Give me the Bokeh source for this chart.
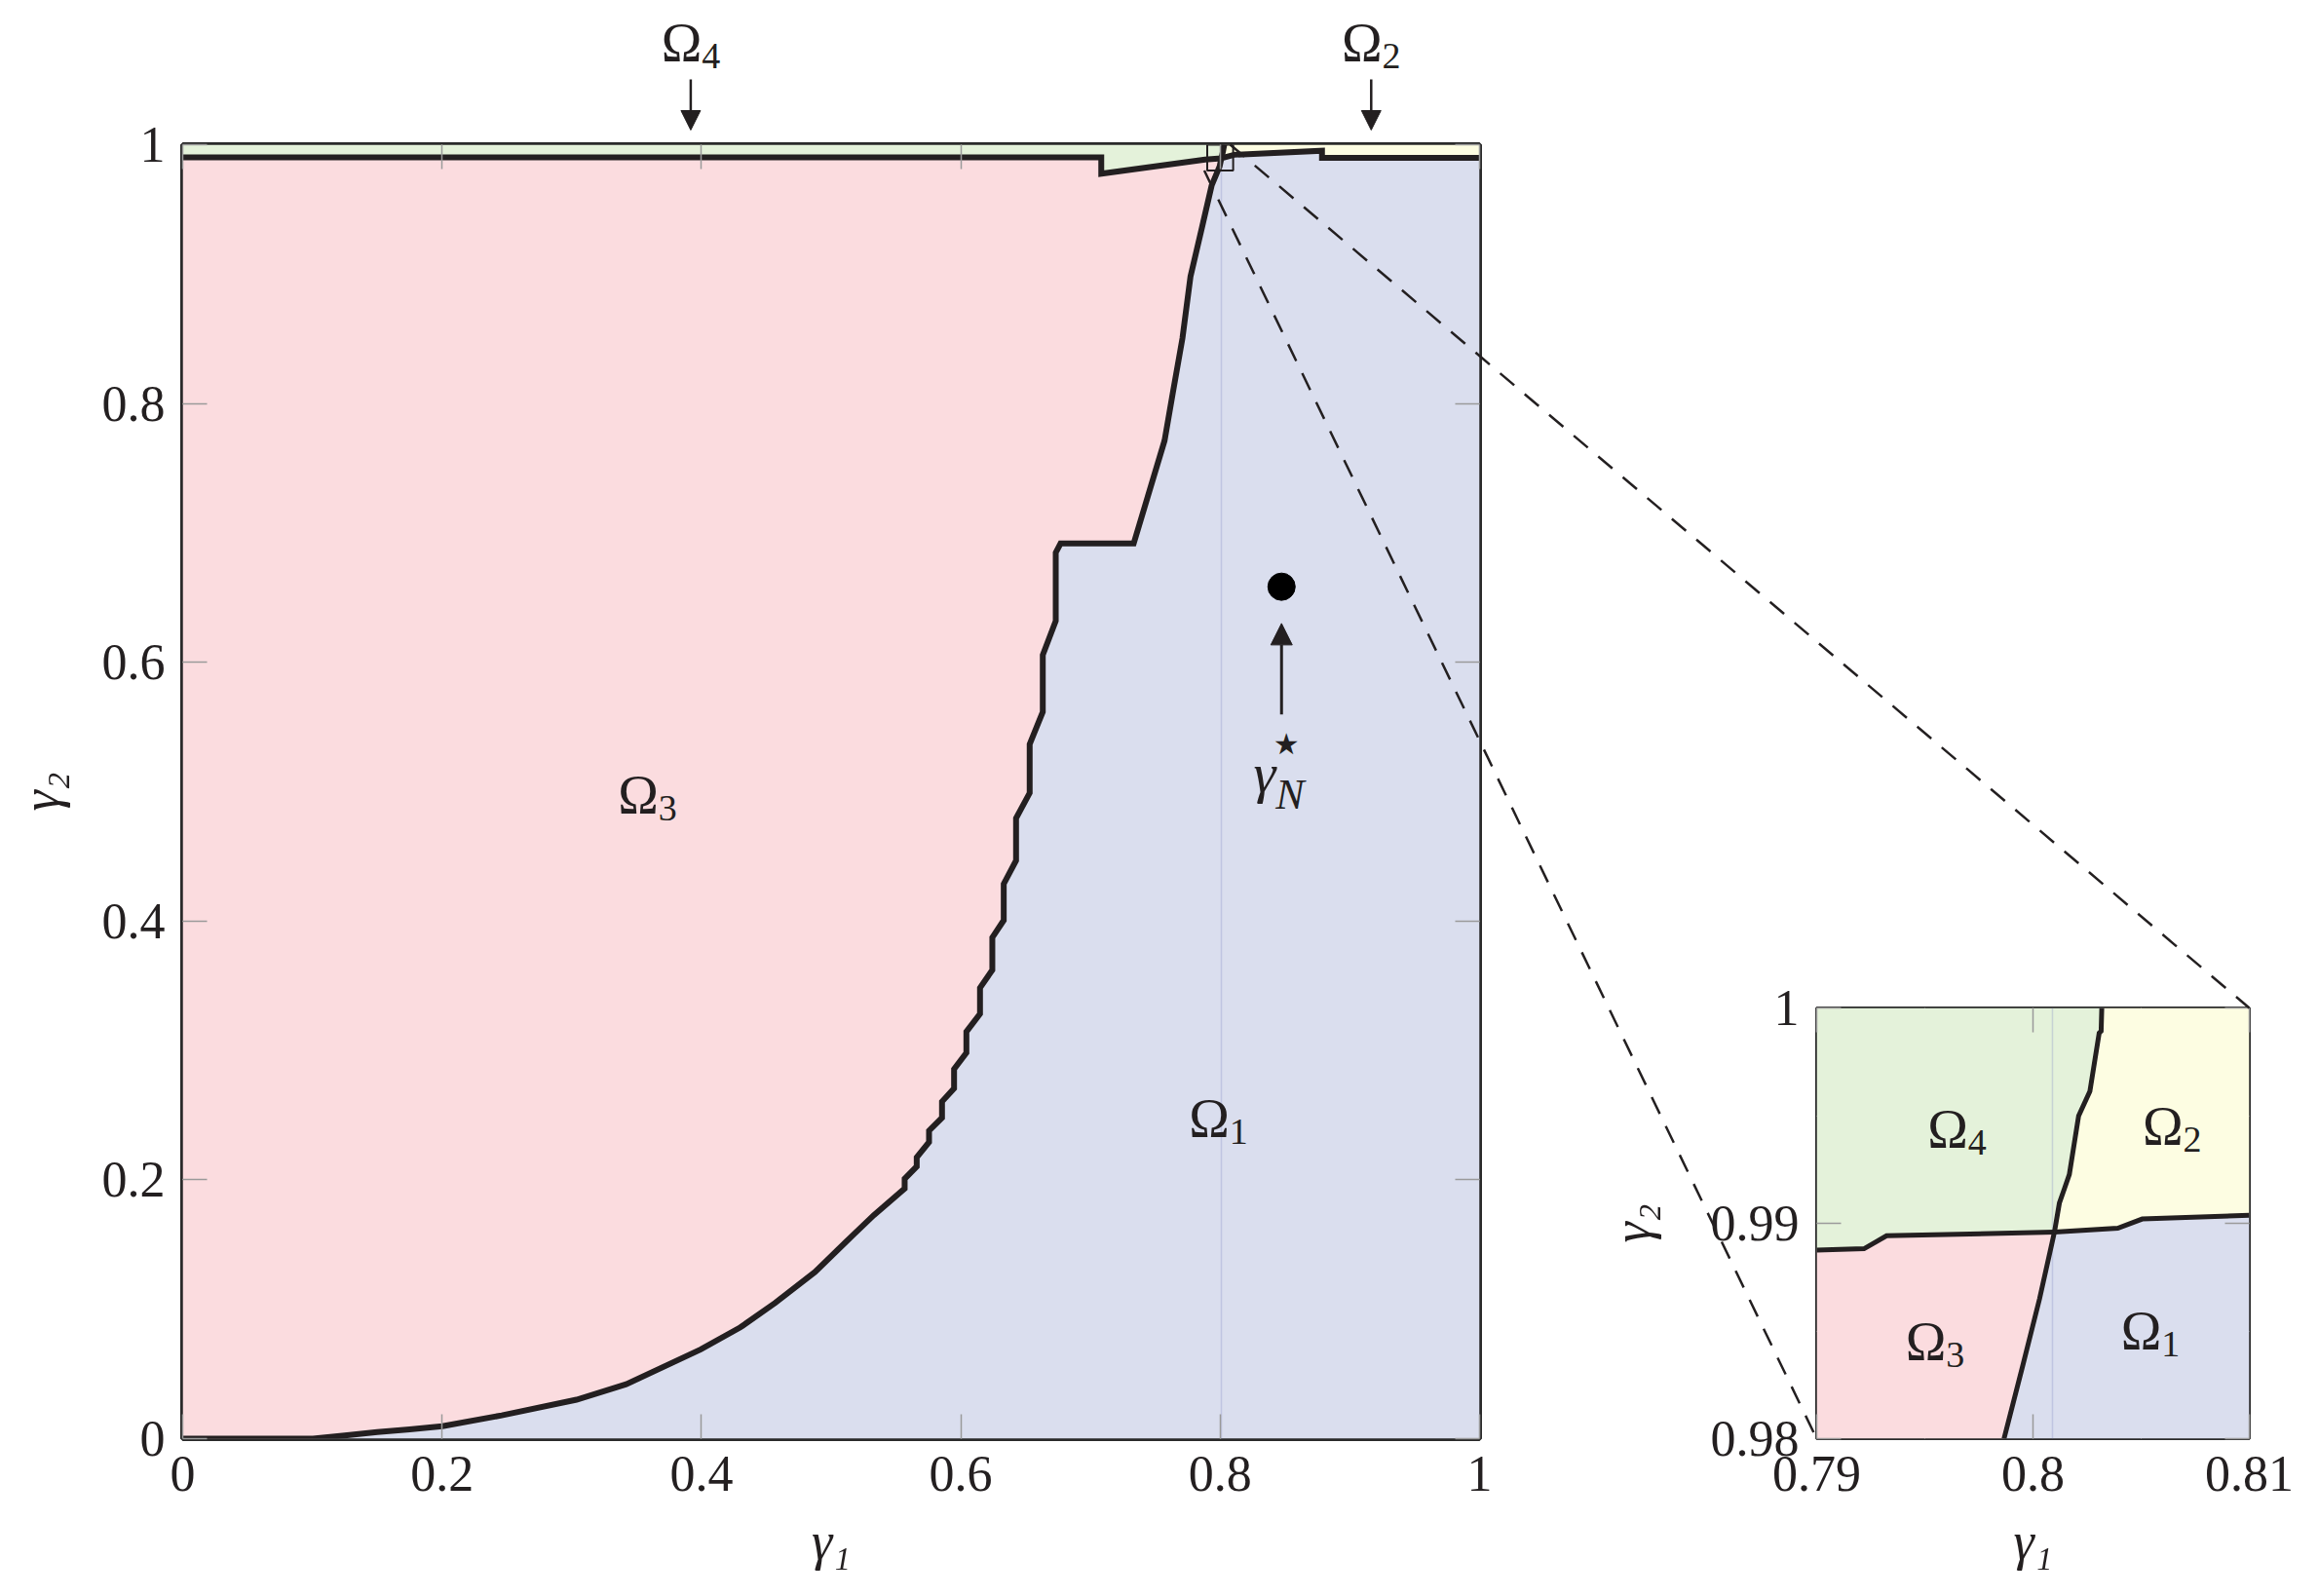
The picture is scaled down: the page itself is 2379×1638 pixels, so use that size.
from bokeh.plotting import figure
from bokeh.models import Range1d, LinearAxis, FixedTicker, Label, Arrow, NormalHead
from bokeh.embed import file_html
from bokeh.resources import INLINE

# ---------------- data ----------------
# main panel: region boundaries (gamma1, gamma2)
b13_x = [0.0, 0.1005, 0.125, 0.150, 0.175, 0.2002, 0.246, 0.3037, 0.342, 0.3995, 0.430, 0.4569, 0.4876,
         0.5145, 0.5329,
         0.5567, 0.5567, 0.5660, 0.5660, 0.5755, 0.5755, 0.5855, 0.5855, 0.5948, 0.5948, 0.6043, 0.6043,
         0.6148, 0.6148, 0.6243, 0.6243, 0.6331, 0.6331, 0.6426, 0.6426, 0.6531, 0.6531, 0.6632, 0.6632,
         0.6732, 0.6732, 0.6769, 0.7333, 0.7571, 0.7634, 0.7709, 0.7771, 0.7859, 0.7934, 0.7996, 0.8009]
b13_y = [0.0, 0.0, 0.0025, 0.005, 0.0072, 0.0096, 0.018, 0.0301, 0.042, 0.0690, 0.086, 0.1049, 0.1288,
         0.1551, 0.1727,
         0.1933, 0.2008, 0.2103, 0.2174, 0.2291, 0.2380, 0.2480, 0.2605, 0.2706, 0.2856, 0.2982, 0.3145,
         0.3283, 0.3484, 0.3622, 0.3873, 0.4006, 0.4287, 0.4468, 0.4794, 0.4990, 0.5367, 0.5617, 0.6056,
         0.6320, 0.6847, 0.6918, 0.6918, 0.7713, 0.8078, 0.8504, 0.8981, 0.9358, 0.9684, 0.9834, 0.9895]
b34_x = [0.0, 0.7083, 0.7083, 0.7884, 0.8009]
b34_y = [0.9902, 0.9902, 0.9776, 0.9885, 0.9895]
b12_x = [0.8009, 0.8107, 0.8785, 0.8785, 1.0]
b12_y = [0.9895, 0.9922, 0.9953, 0.9899, 0.9899]
b24_x = [0.8009, 0.8022, 0.8031]
b24_y = [0.9895, 0.9950, 1.0]

# inset panel boundaries
ib13_x = [0.79866, 0.79952, 0.80030, 0.80099]
ib13_y = [0.98, 0.98337, 0.98648, 0.98959]
ib34_x = [0.79, 0.79219, 0.79323, 0.80099]
ib34_y = [0.98876, 0.98882, 0.98942, 0.98959]
ib12_x = [0.80099, 0.80392, 0.80505, 0.81]
ib12_y = [0.98959, 0.98977, 0.9902, 0.99037]
ib24_x = [0.80099, 0.80122, 0.80146, 0.80168, 0.80211, 0.80263, 0.80306, 0.80315, 0.80318]
ib24_y = [0.98959, 0.99094, 0.99163, 0.99227, 0.99499, 0.99613, 0.99884, 0.99893, 1.0]

seam_x = 0.8009
gstar_x, gstar_y = 0.8473, 0.6584
gstar_arrow_y = [0.5597, 0.630]
gstar_label_y = 0.5143

main_xlim, main_ylim = (0.0, 1.0), (0.0, 1.0)
ins_xlim, ins_ylim = (0.79, 0.81), (0.98, 1.0)

main_x_ticks = [0, 0.2, 0.4, 0.6, 0.8, 1]
main_x_labels = ["0", "0.2", "0.4", "0.6", "0.8", "1"]
main_y_ticks = [0, 0.2, 0.4, 0.6, 0.8, 1]
main_y_labels = ["0", "0.2", "0.4", "0.6", "0.8", "1"]
ins_x_ticks = [0.79, 0.8, 0.81]
ins_x_labels = ["0.79", "0.8", "0.81"]
ins_y_ticks = [0.98, 0.99, 1.0]
ins_y_labels = ["0.98", "0.99", "1"]

# region labels: symbol, subscript, gamma1, gamma2 (centre)
main_region_labels = [("Ω", "3", 0.3584, 0.497), ("Ω", "1", 0.7986, 0.247)]
# top call-outs: symbol, subscript, gamma1, label gamma2, arrow start gamma2, arrow end gamma2
top_labels = [("Ω", "4", 0.3940, 1.0790, 1.0505, 1.0113), ("Ω", "2", 0.9187, 1.0790, 1.0505, 1.0113)]
ins_region_labels = [("Ω", "4", 0.79649, 0.99435), ("Ω", "2", 0.80643, 0.99448),
                     ("Ω", "3", 0.79547, 0.98449), ("Ω", "1", 0.80543, 0.98501)]

# ---------------- style / geometry ----------------
FONT = "Liberation Serif"
C_PINK, C_BLUE, C_GREEN, C_YELLOW = "#FBDCDF", "#DADEEE", "#E4F2DA", "#FDFDE2"
C_LINE = "#231F20"
TICK_FS = "52px"
OM_FS, SUB_FS = 56, 38

PM = 8
# frame positions on the page
M_L, M_T, MAIN_FW, MAIN_FH = 184, 148, 1331, 1328
I_L, I_T, INS_FW, INS_FH = 1864, 1034, 444, 442
PAGE_BOTTOM = 1628
MAIN_BL, MAIN_BR = M_L - PM, 150
MAIN_BT, MAIN_BB = M_T - PM, PAGE_BOTTOM - (M_T + MAIN_FH)
INS_BL, INS_BR = 260, 60
INS_BT, INS_BB = I_T - PM, PAGE_BOTTOM - (I_T + INS_FH)


def pos(left, top, z=1):
    return {"position": "absolute", "left": f"{left}px", "top": f"{top}px", "z-index": str(z)}


def make_fig(xr, yr, fw, fh, bl, br, bt, bb, xt, xl, yt, yl, outline_w, left, ylab_standoff):
    p = figure(x_range=Range1d(*xr), y_range=Range1d(*yr), frame_width=fw, frame_height=fh,
               min_border_left=bl, min_border_right=br, min_border_top=bt, min_border_bottom=bb,
               output_backend="svg", toolbar_location=None,
               x_axis_location=None, y_axis_location=None, styles=pos(left, PM, 1))
    xb = LinearAxis(ticker=FixedTicker(ticks=xt),
                    major_label_overrides={float(v): s for v, s in zip(xt, xl)})
    yl_ax = LinearAxis(ticker=FixedTicker(ticks=yt),
                       major_label_overrides={float(v): s for v, s in zip(yt, yl)})
    xa = LinearAxis(ticker=FixedTicker(ticks=xt))
    yr_ax = LinearAxis(ticker=FixedTicker(ticks=yt))
    p.add_layout(xb, "below")
    p.add_layout(yl_ax, "left")
    p.add_layout(xa, "above")
    p.add_layout(yr_ax, "right")
    for ax in (xb, yl_ax, xa, yr_ax):
        ax.major_tick_in = 25
        ax.major_tick_out = 0
        ax.minor_tick_line_color = None
        ax.axis_line_color = None
        ax.major_tick_line_color = "#9a9a9a"
        ax.major_tick_line_width = 1.5
        ax.major_label_text_font = FONT
        ax.major_label_text_color = C_LINE
        ax.major_label_text_font_size = TICK_FS
        ax.axis_label_text_font = FONT
        ax.axis_label_text_font_style = "italic"
        ax.axis_label_text_font_size = "54px"
        ax.axis_label_text_color = C_LINE
    for ax in (xa, yr_ax):
        ax.major_label_text_color = None
        ax.major_label_text_font_size = "1px"
        ax.major_label_standoff = 0
    xb.major_label_standoff = 18
    yl_ax.major_label_standoff = 18
    xb.axis_label = "γ₁"
    yl_ax.axis_label = "γ₂"
    xb.axis_label_standoff = 19
    yl_ax.axis_label_standoff = ylab_standoff
    p.outline_line_color = "#2a2a2a"
    p.outline_line_width = outline_w
    p.background_fill_color = "white"
    p.border_fill_color = "white"
    return p


def draw_regions(p, b13, b34, b12, b24, xr, yr, lw):
    x0, x1 = xr
    y0, y1 = yr
    (ax, ay), (bx, by), (cx, cy), (dx, dy) = b13, b34, b12, b24
    polys = [
        ([x0] + ax + bx[::-1], [y0] + ay + by[::-1], C_PINK),
        (ax + cx + [x1], ay + cy + [y0], C_BLUE),
        (bx + dx + [x0], by + dy + [y1], C_GREEN),
        (dx + [x1] + cx[::-1], dy + [y1] + cy[::-1], C_YELLOW),
    ]
    for xs, ys, col in polys:
        p.patch(xs, ys, fill_color=col, line_color=None)
    p.line([seam_x, seam_x], [y0, y1], line_color="#8f98c8", line_alpha=0.35, line_width=1.5)
    p.multi_line(xs=[ax, bx, cx, dx], ys=[ay, by, cy, dy], line_color=C_LINE, line_width=lw,
                 line_join="miter")


def txt(p, text, x, y, size, align="center", baseline="middle", dx=0, dy=0, font=FONT, style="normal"):
    p.add_layout(Label(x=x, y=y, text=text, text_font=font, text_font_size=f"{size}px",
                       text_color=C_LINE, text_align=align, text_baseline=baseline,
                       x_offset=dx, y_offset=dy, text_font_style=style))


def sub_label(p, base, sub, x, y):
    """Symbol with subscript, centred on (x, y)."""
    wb = 0.74 * OM_FS
    ws = 0.5 * SUB_FS
    left = -(wb + ws) / 2
    base_dy = 0.0
    txt(p, base, x, y, OM_FS, align="left", baseline="alphabetic", dx=left, dy=base_dy)
    txt(p, sub, x, y, SUB_FS, align="left", baseline="alphabetic", dx=left + wb,
        dy=base_dy - 0.24 * OM_FS)


# ---------------- main panel ----------------
main = make_fig(main_xlim, main_ylim, MAIN_FW, MAIN_FH, MAIN_BL, MAIN_BR, MAIN_BT, MAIN_BB,
                main_x_ticks, main_x_labels, main_y_ticks, main_y_labels, 5, M_L - MAIN_BL, 30)
draw_regions(main, (b13_x, b13_y), (b34_x, b34_y), (b12_x, b12_y), (b24_x, b24_y),
             main_xlim, main_ylim, 6)
main.quad(left=ins_xlim[0], right=ins_xlim[1], bottom=ins_ylim[0], top=ins_ylim[1],
          fill_color=None, line_color=C_LINE, line_width=2)
main.scatter([gstar_x], [gstar_y], size=28, color="black")
main.add_layout(Arrow(end=NormalHead(size=22, fill_color=C_LINE, line_color=C_LINE, line_width=1),
                      x_start=gstar_x, y_start=gstar_arrow_y[0], x_end=gstar_x, y_end=gstar_arrow_y[1],
                      line_color=C_LINE, line_width=3))
txt(main, "γ", gstar_x, gstar_label_y, 58, align="right", baseline="alphabetic", dx=-6, style="italic")
txt(main, "★", gstar_x, gstar_label_y, 30, align="center", baseline="middle", dx=5, dy=30,
    font="DejaVu Sans")
txt(main, "N", gstar_x, gstar_label_y, 44, align="left", baseline="alphabetic", dx=-6, dy=-22,
    style="italic")
for b, s, x, y in main_region_labels:
    sub_label(main, b, s, x, y)

# ---------------- inset panel ----------------
ins = make_fig(ins_xlim, ins_ylim, INS_FW, INS_FH, INS_BL, INS_BR, INS_BT, INS_BB,
               ins_x_ticks, ins_x_labels, ins_y_ticks, ins_y_labels, 3, I_L - INS_BL, 48)
draw_regions(ins, (ib13_x, ib13_y), (ib34_x, ib34_y), (ib12_x, ib12_y), (ib24_x, ib24_y),
             ins_xlim, ins_ylim, 5)
for b, s, x, y in ins_region_labels:
    sub_label(ins, b, s, x, y)


# ---------------- overlay (page pixels) for things drawn across / outside panels ----------------
def main_to_page(x, y):
    return (M_L + (x - main_xlim[0]) / (main_xlim[1] - main_xlim[0]) * MAIN_FW,
            M_T + (main_ylim[1] - y) / (main_ylim[1] - main_ylim[0]) * MAIN_FH)


def ins_to_page(x, y):
    return (I_L + (x - ins_xlim[0]) / (ins_xlim[1] - ins_xlim[0]) * INS_FW,
            I_T + (ins_ylim[1] - y) / (ins_ylim[1] - ins_ylim[0]) * INS_FH)


OW, OH = I_L + INS_FW + INS_BR - PM, PAGE_BOTTOM - PM
ov = figure(x_range=Range1d(PM, PM + OW), y_range=Range1d(PM + OH, PM), width=OW, height=OH,
            min_border=0, output_backend="svg", toolbar_location=None,
            x_axis_location=None, y_axis_location=None, styles=pos(PM, PM, 5))
ov.grid.visible = False
ov.outline_line_color = None
ov.background_fill_color = None
ov.border_fill_color = None

for cx, cy in [(ins_xlim[1], ins_ylim[1]), (ins_xlim[0], ins_ylim[0])]:
    ax_, ay_ = main_to_page(cx, cy)
    bx_, by_ = ins_to_page(cx, cy)
    ov.line([ax_, bx_], [ay_, by_], line_color=C_LINE, line_width=2.5, line_dash="19 14")

for b, s, x, ylab, ys, ye in top_labels:
    px, py = main_to_page(x, ylab)
    _, pys = main_to_page(x, ys)
    _, pye = main_to_page(x, ye)
    sub_label(ov, b, s, px, py)
    ov.add_layout(Arrow(end=NormalHead(size=20, fill_color=C_LINE, line_color=C_LINE, line_width=1),
                        x_start=px, y_start=pys, x_end=px, y_end=pye, line_color=C_LINE, line_width=2.5))

open("out.html", "w").write(file_html([main, ins, ov], INLINE))
